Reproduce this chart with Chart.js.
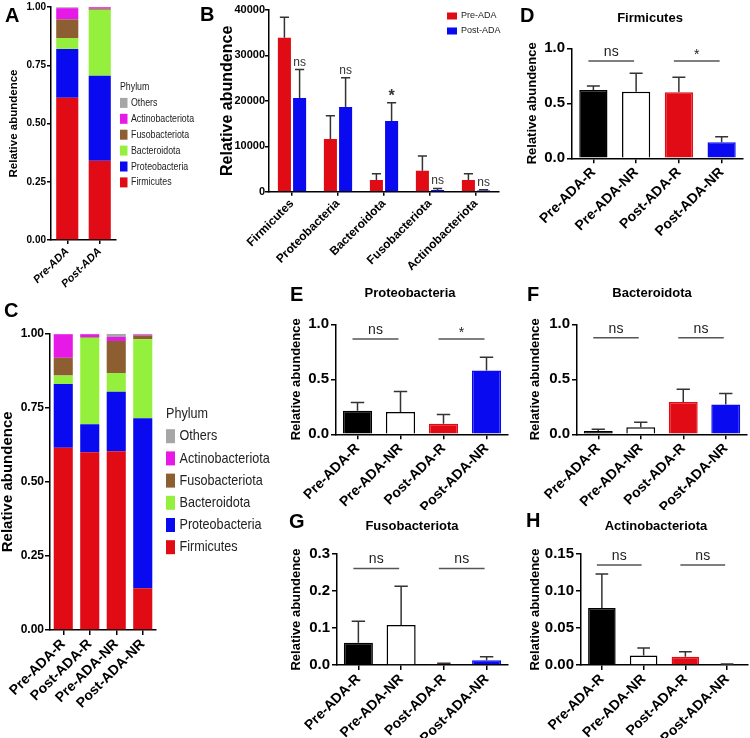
<!DOCTYPE html>
<html><head><meta charset="utf-8">
<script src="https://cdn.jsdelivr.net/npm/chart.js@4.4.1/dist/chart.umd.min.js"></script>
<style>
body{margin:0;background:#fff;width:750px;height:738px;position:relative;overflow:hidden;font-family:"Liberation Sans",Arial,sans-serif;}
canvas{position:absolute;}
.lbl{position:absolute;font-weight:bold;font-size:20px;line-height:20px;color:#000;}
.ttl{position:absolute;font-weight:bold;font-size:13px;line-height:13px;transform:translate(-50%,-50%);white-space:nowrap;color:#000;}
</style></head><body>
<script>
// ---------- DATA ----------
const phyla = ['Firmicutes','Proteobacteria','Bacteroidota','Fusobacteriota','Actinobacteriota','Others'];
const groupsA = ['Pre-ADA','Post-ADA'];
const aFirmicutes = [0.61, 0.34];
const aProteobacteria = [0.21, 0.365];
const aBacteroidota = [0.047, 0.283];
const aFusobacteriota = [0.08, 0.005];
const aActinobacteriota = [0.048, 0.006];
const aOthers = [0.004, 0.001];

const groupsC = ['Pre-ADA-R','Post-ADA-R','Pre-ADA-NR','Post-ADA-NR'];
const cFirmicutes = [0.615, 0.600, 0.603, 0.141];
const cProteobacteria = [0.215, 0.094, 0.201, 0.574];
const cBacteroidota = [0.029, 0.292, 0.063, 0.266];
const cFusobacteriota = [0.060, 0.003, 0.108, 0.013];
const cActinobacteriota = [0.079, 0.009, 0.014, 0.003];
const cOthers = [0.002, 0.002, 0.011, 0.003];

const phylaB = ['Firmicutes','Proteobacteria','Bacteroidota','Fusobacteriota','Actinobacteriota'];
const seriesB = ['Pre-ADA','Post-ADA'];
const bPre = [33900, 11600, 2570, 4620, 2570];
const bPreErr = [4500, 5100, 1400, 3230, 1400];
const bPost = [20600, 18640, 15560, 370, 250];
const bPostErr = [6300, 6460, 4040, 360, 200];
const bSig = ['ns','ns','*','ns','ns'];

const groupsR = ['Pre-ADA-R','Pre-ADA-NR','Post-ADA-R','Post-ADA-NR'];
const firmMean = [0.62, 0.605, 0.60, 0.145];
const firmErr  = [0.038, 0.168, 0.136, 0.052];
const proteoMean = [0.215, 0.203, 0.097, 0.579];
const proteoErr  = [0.073, 0.185, 0.083, 0.121];
const bactMean = [0.03, 0.064, 0.294, 0.27];
const bactErr  = [0.015, 0.045, 0.115, 0.10];
const fusoMean = [0.06, 0.108, 0.003, 0.013];
const fusoErr  = [0.058, 0.105, 0.002, 0.009];
const actinoMean = [0.077, 0.013, 0.011, 0.001];
const actinoErr  = [0.046, 0.010, 0.007, 0.0005];
const sigFirm = ['ns','*'];
const sigProteo = ['ns','*'];
const sigBact = ['ns','ns'];
const sigFuso = ['ns','ns'];
const sigActino = ['ns','ns'];

// ---------- STYLE ----------
const RED = '#E00B14', BLUE = '#0A0AF0';
const phylaColors = ['#E00B14','#0A0AF0','#94F03C','#8E5E33','#E619E6','#A6A6A6'];
const groupFill = ['#000000','#FFFFFF',RED,BLUE];
const groupBorder = ['#000000','#000000',RED,BLUE];
const FONT = '"Liberation Sans", Arial, sans-serif';

Chart.defaults.font.family = FONT;
Chart.defaults.color = '#000';
Chart.defaults.animation = false;

// ---------- PLUGINS ----------
const errorBarPlugin = {
  id: 'errbars',
  afterDatasetsDraw(chart, args, o) {
    const ctx = chart.ctx, ys = chart.scales.y;
    chart.data.datasets.forEach((ds, di) => {
      if (!ds.errors) return;
      chart.getDatasetMeta(di).data.forEach((bar, i) => {
        const top = ys.getPixelForValue(ds.data[i] + ds.errors[i]);
        const half = bar.width * (o.cap || 0.25);
        ctx.save();
        ctx.strokeStyle = o.color || '#333';
        ctx.lineWidth = 1.5;
        ctx.beginPath();
        ctx.moveTo(bar.x, bar.y); ctx.lineTo(bar.x, top);
        ctx.moveTo(bar.x - half, top); ctx.lineTo(bar.x + half, top);
        ctx.stroke();
        if (ds.sigLabels) {
          const t = ds.sigLabels[i];
          ctx.fillStyle = '#333';
          ctx.textAlign = 'center';
          if (t === '*') { ctx.font = 'bold 16px ' + FONT; ctx.textBaseline = 'middle'; ctx.fillText(t, bar.x, top - 6); }
          else { ctx.font = '12px ' + FONT; ctx.textBaseline = 'alphabetic'; ctx.fillText(t, bar.x, top - 4); }
        }
        ctx.restore();
      });
    });
  }
};

const sigPlugin = {
  id: 'sig',
  afterDatasetsDraw(chart, args, o) {
    if (!o.labels) return;
    const ctx = chart.ctx, xs = chart.scales.x, ys = chart.scales.y;
    const y = ys.getPixelForValue(o.y);
    o.labels.forEach((t, k) => {
      const i = k * 2, j = k * 2 + 1;
      const x1 = xs.getPixelForValue(i) - 5, x2 = xs.getPixelForValue(j) - 2;
      ctx.save();
      ctx.strokeStyle = '#555'; ctx.lineWidth = 1.5;
      ctx.beginPath(); ctx.moveTo(x1, y); ctx.lineTo(x2, y); ctx.stroke();
      ctx.fillStyle = '#222'; ctx.textAlign = 'center';
      ctx.font = '14px ' + FONT;
      if (t === '*') { ctx.textBaseline = 'middle'; ctx.fillText(t, (x1 + x2) / 2, y - 6); }
      else { ctx.textBaseline = 'alphabetic'; ctx.fillText(t, (x1 + x2) / 2, y - 5); }
      ctx.restore();
    });
  }
};

const boxLegend = {
  id: 'boxLegend',
  afterDraw(chart, args, o) {
    if (o.x === undefined) return;
    const ctx = chart.ctx, box = chart.canvas.__box;
    const x = o.x - box[0];
    const sx = o.sx || 1;
    let y = o.y - box[1];
    const text = (s, tx, ty) => {
      ctx.save(); ctx.translate(tx, ty); ctx.scale(sx, 1); ctx.fillText(s, 0, 0); ctx.restore();
    };
    ctx.save();
    ctx.fillStyle = '#222';
    ctx.textBaseline = 'middle'; ctx.textAlign = 'left';
    ctx.font = o.size + 'px ' + FONT;
    if (o.title) { text(o.title, x, y); y += o.row; }
    let dsets = chart.data.datasets.slice();
    if (o.reverse) dsets.reverse();
    dsets.forEach(ds => {
      ctx.fillStyle = ds.backgroundColor;
      ctx.fillRect(x, y - o.sh / 2, o.sw, o.sh);
      ctx.fillStyle = '#222';
      text(ds.label, x + o.sw + o.gap, y);
      y += o.row;
    });
    ctx.restore();
  }
};

// ---------- BUILDER ----------
function makeChart(p) {
  const c = document.createElement('canvas');
  c.width = p.box[2]; c.height = p.box[3];
  c.style.left = p.box[0] + 'px'; c.style.top = p.box[1] + 'px';
  c.style.width = p.box[2] + 'px'; c.style.height = p.box[3] + 'px';
  c.__box = p.box;
  document.body.appendChild(c);
  const padLeft = p.titleCX - p.box[0] - p.titleSize / 2;
  const tl = p.tickLen || 5;
  const gridCfg = { display: true, drawOnChartArea: false, drawTicks: true, tickLength: tl, color: '#000', lineWidth: 1.5, offset: false };
  const border = { display: true, color: '#000', width: 1.5 };
  new Chart(c, {
    type: 'bar',
    data: { labels: p.labels, datasets: p.datasets },
    options: {
      responsive: false, animation: false,
      layout: { padding: { left: padLeft, top: p.area[1] - p.box[1], right: p.box[0] + p.box[2] - p.area[2], bottom: 0 } },
      plugins: {
        legend: { display: false }, tooltip: { enabled: false },
        errbars: p.err || {}, sig: p.sig || {}, boxLegend: p.legend || {}
      },
      scales: {
        x: {
          stacked: !!p.stacked, offset: true,
          grid: gridCfg, border: border,
          ticks: { autoSkip: false, minRotation: 45, maxRotation: 45, padding: 1, color: '#000',
                   font: { size: p.xFont, weight: 'bold', style: p.xStyle || 'normal' } },
          afterFit: s => { s.height = p.box[1] + p.box[3] - p.area[3]; }
        },
        y: {
          stacked: !!p.stacked, min: 0, max: p.yMax,
          grid: gridCfg, border: border,
          ticks: { stepSize: p.step, padding: p.tickPad === undefined ? 2 : p.tickPad, color: '#000',
                   callback: v => Number(v).toFixed(p.dec),
                   font: { size: p.yFont, weight: 'bold' } },
          title: { display: true, text: 'Relative abundence', color: '#000', padding: 0,
                   font: { size: p.titleSize, weight: 'bold', lineHeight: 1 } },
          afterFit: s => { s.width = p.area[0] - p.box[0] - padLeft; }
        }
      }
    },
    plugins: [errorBarPlugin, sigPlugin, boxLegend]
  });
}

function stackSets(arrs, pct) {
  return phyla.map((name, k) => ({ label: name, data: arrs[k], backgroundColor: phylaColors[k],
    borderWidth: 0, barPercentage: pct, categoryPercentage: 1 }));
}
function groupSet(mean, err, pct) {
  return [{ label: 'mean', data: mean, errors: err, backgroundColor: groupFill, borderColor: groupBorder,
    borderWidth: 1.5, barPercentage: pct, categoryPercentage: 1 }];
}

// Panel A
makeChart({ box: [0, 0, 200, 290], area: [51, 6.7, 116, 240], titleCX: 13.5, titleSize: 11.5,
  labels: groupsA, stacked: true, yMax: 1, step: 0.25, dec: 2, xFont: 11, yFont: 10, xStyle: 'italic', tickLen: 4, tickPad: 1,
  datasets: stackSets([aFirmicutes, aProteobacteria, aBacteroidota, aFusobacteriota, aActinobacteriota, aOthers], 0.68),
  legend: { x: 120, y: 87, title: 'Phylum', size: 11, sx: 0.8, row: 15.9, sw: 7.5, sh: 10, gap: 3.5, reverse: true } });

// Panel B
makeChart({ box: [190, 0, 312, 285], area: [269, 10, 499, 191.7], titleCX: 228, titleSize: 16,
  labels: phylaB, yMax: 40000, step: 10000, dec: 0, xFont: 12, yFont: 11, tickLen: 4, tickPad: 0,
  datasets: [
    { label: seriesB[0], data: bPre, errors: bPreErr, backgroundColor: RED, borderWidth: 0, barPercentage: 0.86, categoryPercentage: 0.66 },
    { label: seriesB[1], data: bPost, errors: bPostErr, sigLabels: bSig, backgroundColor: BLUE, borderWidth: 0, barPercentage: 0.86, categoryPercentage: 0.66 }
  ],
  err: { cap: 0.35, color: '#333' },
  legend: { x: 447, y: 16, size: 9, row: 15, sw: 10, sh: 7, gap: 4 } });

// Panel C
makeChart({ box: [0, 290, 300, 448], area: [50, 333.7, 156, 630], titleCX: 7.5, titleSize: 15,
  labels: groupsC, stacked: true, yMax: 1, step: 0.25, dec: 2, xFont: 14, yFont: 12, tickLen: 5, tickPad: 1,
  datasets: stackSets([cFirmicutes, cProteobacteria, cBacteroidota, cFusobacteriota, cActinobacteriota, cOthers], 0.72),
  legend: { x: 166, y: 414, title: 'Phylum', size: 15, sx: 0.84, row: 22.2, sw: 9, sh: 14, gap: 4.5, reverse: true } });

// Panel D
makeChart({ box: [470, 0, 280, 290], area: [572, 48.3, 743, 158.3], titleCX: 532, titleSize: 13,
  labels: groupsR, yMax: 1, step: 0.5, dec: 1, xFont: 14, yFont: 15,
  datasets: groupSet(firmMean, firmErr, 0.66), err: { cap: 0.23, color: '#333' },
  sig: { y: 0.885, labels: sigFirm } });

// Panel E
makeChart({ box: [286, 300, 230, 210], area: [336, 324.3, 508, 434.3], titleCX: 296, titleSize: 13,
  labels: groupsR, yMax: 1, step: 0.5, dec: 1, xFont: 14, yFont: 15,
  datasets: groupSet(proteoMean, proteoErr, 0.68), err: { cap: 0.23, color: '#333' },
  sig: { y: 0.866, labels: sigProteo } });

// Panel F
makeChart({ box: [520, 300, 230, 210], area: [577, 324.3, 747, 434.3], titleCX: 535, titleSize: 13,
  labels: groupsR, yMax: 1, step: 0.5, dec: 1, xFont: 14, yFont: 15,
  datasets: groupSet(bactMean, bactErr, 0.68), err: { cap: 0.23, color: '#333' },
  sig: { y: 0.878, labels: sigBact } });

// Panel G
makeChart({ box: [286, 515, 230, 223], area: [337, 554, 508, 665], titleCX: 296, titleSize: 13,
  labels: groupsR, yMax: 0.3, step: 0.1, dec: 1, xFont: 14, yFont: 15,
  datasets: groupSet(fusoMean, fusoErr, 0.68), err: { cap: 0.23, color: '#333' },
  sig: { y: 0.261, labels: sigFuso } });

// Panel H
makeChart({ box: [520, 515, 230, 223], area: [581, 554, 748, 665], titleCX: 535, titleSize: 13,
  labels: groupsR, yMax: 0.15, step: 0.05, dec: 2, xFont: 14, yFont: 15,
  datasets: groupSet(actinoMean, actinoErr, 0.66), err: { cap: 0.23, color: '#333' },
  sig: { y: 0.135, labels: sigActino } });

// Panel letters and titles
function addDiv(cls, text, x, y) {
  const d = document.createElement('div'); d.className = cls; d.textContent = text;
  d.style.left = x + 'px'; d.style.top = y + 'px'; document.body.appendChild(d);
}
[['A',5,5],['B',200,4],['C',4,300],['D',520,5],['E',290,284],['F',527,284],['G',289,511],['H',526,510]]
  .forEach(l => addDiv('lbl', l[0], l[1], l[2]));
[['Firmicutes',650,17],['Proteobacteria',410,292],['Bacteroidota',652,292],['Fusobacteriota',412,525],['Actinobacteriota',656,525]]
  .forEach(t => addDiv('ttl', t[0], t[1], t[2]));
</script>
</body></html>
